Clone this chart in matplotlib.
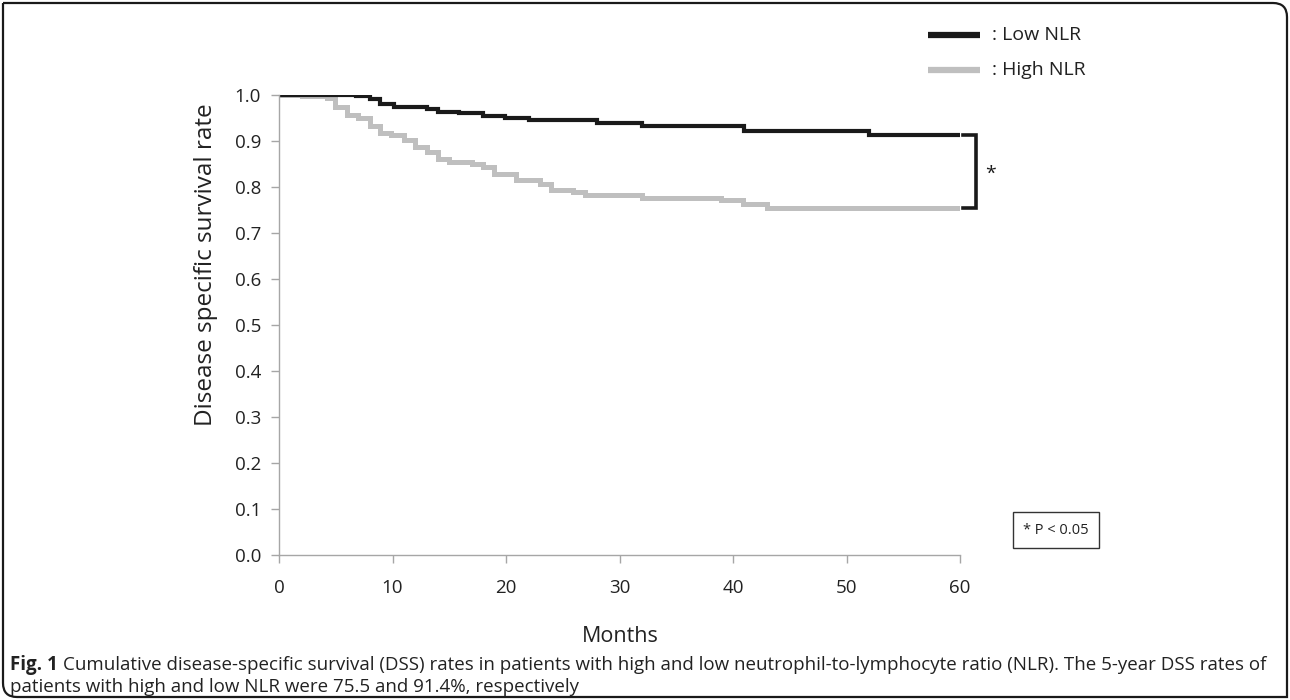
import matplotlib
matplotlib.use('Agg')
import matplotlib.pyplot as plt
from matplotlib.lines import Line2D
from matplotlib.path import Path
from matplotlib.patches import PathPatch
from matplotlib.transforms import Affine2D

# Kaplan-Meier step points (months, survival)
low_t = [0, 6.8, 8.0, 8.9, 10.1, 13.0, 14.0, 15.9, 18.0, 19.9, 22.0, 28.0, 32.0, 41.0, 52.0, 60]
low_s = [1.0, 0.997, 0.991, 0.980, 0.975, 0.969, 0.964, 0.960, 0.955, 0.951, 0.946, 0.940, 0.933, 0.922, 0.914, 0.914]

high_t = [0, 2.0, 4.2, 4.9, 6.0, 7.0, 8.0, 8.9, 9.9, 11.0, 12.0, 13.0, 14.0, 15.0, 17.0, 18.0,
          18.9, 20.9, 23.0, 24.0, 25.9, 27.0, 32.0, 38.9, 40.9, 43.0, 60]
high_s = [1.0, 0.997, 0.993, 0.973, 0.957, 0.950, 0.933, 0.918, 0.912, 0.903, 0.888, 0.876, 0.861, 0.854, 0.851, 0.843,
          0.829, 0.816, 0.807, 0.794, 0.789, 0.782, 0.776, 0.771, 0.764, 0.755, 0.755]

x_ticks = [0, 10, 20, 30, 40, 50, 60]
y_ticks = [0.0, 0.1, 0.2, 0.3, 0.4, 0.5, 0.6, 0.7, 0.8, 0.9, 1.0]

W, H = 1290, 700
FONT = 'Open Sans'
BLACK = '#1a1a1a'
GRAY = '#bfbfbf'
AXIS = '#a6a6a6'
TXT = '#222222'

plt.rcParams['font.family'] = [FONT, 'DejaVu Sans']

fig = plt.figure(figsize=(W / 100, H / 100), dpi=100)
px = Affine2D().scale(1 / W, 1 / H) + fig.transFigure  # pixel coords, origin bottom-left

ax = fig.add_axes([279 / W, 1 - 555 / H, (960 - 279) / W, (555 - 95) / H])

ax.step(high_t, high_s, where='post', color=GRAY, lw=3.6, solid_joinstyle='miter')
ax.step(low_t, low_s, where='post', color=BLACK, lw=3.0, solid_joinstyle='miter')

ax.set_xlim(0, 60)
ax.set_ylim(0, 1.0)
ax.set_xticks(x_ticks)
ax.set_yticks(y_ticks)
ax.set_yticklabels(['%.1f' % v for v in y_ticks])
for s in ['top', 'right']:
    ax.spines[s].set_visible(False)
for s in ['left', 'bottom']:
    ax.spines[s].set_color(AXIS)
    ax.spines[s].set_linewidth(1.0)
ax.tick_params(axis='both', colors=AXIS, length=6, width=1.0, labelcolor=TXT, labelsize=13.5)
ax.tick_params(axis='x', pad=11)
ax.tick_params(axis='y', pad=7)

fig.text(206, H - 265, 'Disease specific survival rate', transform=px, fontsize=17.5,
         rotation=90, ha='center', va='center', color=TXT)
fig.text(620, H - 636, 'Months', transform=px, fontsize=15.5, ha='center', va='center', color=TXT)

# bracket between the two 5-year values
y_lo, y_hi = high_s[-1], low_s[-1]
bx = 61.4
ax.plot([60.3, bx, bx, 60.3], [y_hi, y_hi, y_lo, y_lo], color=BLACK, lw=2.6,
        clip_on=False, solid_joinstyle='miter')
ax.text(62.7, (y_hi + y_lo) / 2 - 0.005, '*', fontsize=14, ha='center', va='center', color=BLACK)

# legend
for yy, col, lw, lab in [(35, BLACK, 4.5, ': Low NLR'), (70, GRAY, 4.5, ': High NLR')]:
    fig.add_artist(Line2D([928, 980], [H - yy, H - yy], transform=px, color=col, lw=lw,
                          solid_capstyle='butt'))
    fig.text(992, H - yy, lab, transform=px, fontsize=14, va='center', ha='left', color=TXT)

# significance box
fig.text(1056, H - 530, '* P < 0.05', transform=px, fontsize=10.5, ha='center', va='center',
         color=TXT,
         bbox=dict(boxstyle='square,pad=0.7', fc='white', ec='#333333', lw=1.0))

# caption
fig.canvas.draw()
r = fig.canvas.get_renderer()
cap_fs = 13.5
t1 = fig.text(10, H - 665, 'Fig. 1', transform=px, fontsize=cap_fs, fontweight='bold',
              va='center', ha='left', color=TXT)
bb = t1.get_window_extent(renderer=r)
fig.text(bb.x1 + 5, H - 665,
         'Cumulative disease-specific survival (DSS) rates in patients with high and low '
         'neutrophil-to-lymphocyte ratio (NLR). The 5-year DSS rates of',
         transform=px, fontsize=cap_fs, va='center', ha='left', color=TXT)
fig.text(10, H - 687, 'patients with high and low NLR were 75.5 and 91.4%, respectively',
         transform=px, fontsize=cap_fs, va='center', ha='left', color=TXT)

# frame with rounded top-right and bottom-left corners
rad = 14
x0, y0, x1, y1 = 3, 3, 1287, 697
verts = [(x0, y1), (x1 - rad, y1), (x1, y1), (x1, y1 - rad), (x1, y0),
         (x0 + rad, y0), (x0, y0), (x0, y0 + rad), (x0, y1)]
codes = [Path.MOVETO, Path.LINETO, Path.CURVE3, Path.CURVE3, Path.LINETO,
         Path.LINETO, Path.CURVE3, Path.CURVE3, Path.LINETO]
fig.add_artist(PathPatch(Path(verts, codes), transform=px, fill=False, ec=BLACK, lw=1.6))

fig.savefig('out.png', dpi=100)
